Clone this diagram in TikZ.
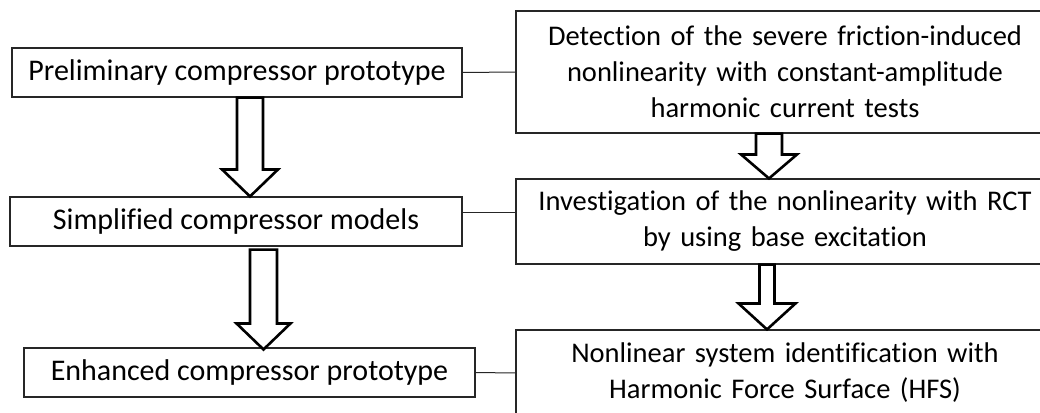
\documentclass[tikz,border=0pt]{standalone}
\usepackage{fontspec}
\setmainfont[Ligatures=NoCommon]{Carlito}
\usetikzlibrary{calc}
\tikzset{
  box/.style={draw=black!85, line width=1.1pt, inner sep=0pt, align=center,
    font=\fontsize{30}{36}\selectfont},
  rbox/.style={box, font=\fontsize{28.5}{36}\selectfont, text width=530pt, minimum width=538pt},
  link/.style={draw=black!85, line width=1pt},
  blockarr/.style={draw=black, line width=2.6pt, fill=white, line join=miter},
}
\newcommand\blockarrow[6]{% style, start, tip, shaft half, head half, head length
  \draw[#1] let \p1=(#2), \p2=(#3) in
    (\x2-#4pt,\y1) -- (\x2-#4pt,\y2+#6pt) -- (\x2-#5pt,\y2+#6pt) -- (\p2)
    -- (\x2+#5pt,\y2+#6pt) -- (\x2+#4pt,\y2+#6pt) -- (\x2+#4pt,\y1) -- cycle;}
\begin{document}
\begin{tikzpicture}[x=1pt,y=-1pt]
\useasboundingbox (0,0) rectangle (1040,412);
\clip (0,0) rectangle (1040,412);
\fill[white] (0,0) rectangle (1040,412);
% left column
\node[box, minimum width=450pt, minimum height=49pt] (b1) at (237,72.5) {Preliminary compressor prototype};
\node[box, minimum width=452pt, minimum height=49pt] (b2) at (236,221.5) {Simplified compressor models};
\node[box, minimum width=451pt, minimum height=49pt] (b3) at (249.5,372.5) {Enhanced compressor prototype};
% right column
\node[rbox, minimum height=122pt] (r1) at (785,72)
  {Detection of the severe friction-induced\\nonlinearity with constant-amplitude\\harmonic current tests};
\node[rbox, minimum height=85pt] (r2) at (785,221.5)
  {Investigation of the nonlinearity with RCT\\by using base excitation};
\node[rbox, minimum height=86pt] (r3) at (785,373)
  {Nonlinear system identification with\\Harmonic Force Surface (HFS)};
% connectors
\draw[link] (b1.east) -- (r1.west);
\draw[link] ([yshift=9pt]b2.east) -- ([yshift=9pt]b2.east -| r2.west);
\draw[link] (b3.east) -- (r3.west);
% block arrows
\coordinate (a1s) at ([xshift=14pt]b1.south);
\coordinate (a1t) at ([xshift=14pt]b2.north);
\blockarrow{blockarr}{a1s}{a1t}{13}{28}{27}
\coordinate (a2s) at ([xshift=14pt,yshift=-3pt]b2.south);
\coordinate (a2t) at ([xshift=14pt,yshift=-2pt]b3.north);
\blockarrow{blockarr}{a2s}{a2t}{13.5}{27}{26}
\coordinate (a3s) at ([xshift=-16pt]r1.south);
\coordinate (a3t) at ([xshift=-16pt]r2.north);
\blockarrow{blockarr}{a3s}{a3t}{13}{28}{24}
\coordinate (a4s) at ([xshift=-18pt]r2.south);
\coordinate (a4t) at ([xshift=-18pt]r3.north);
\blockarrow{blockarr}{a4s}{a4t}{7.5}{28.5}{26}
\end{tikzpicture}
\end{document}
